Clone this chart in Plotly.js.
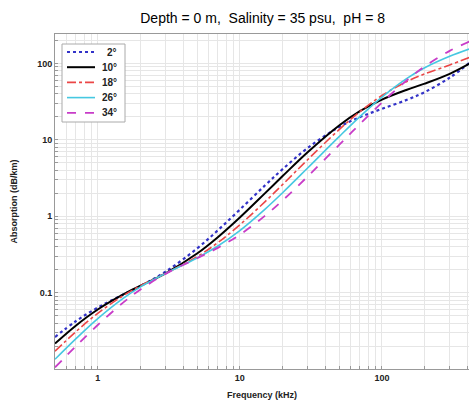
<!DOCTYPE html>
<html>
<head>
<meta charset="utf-8">
<script src="https://cdn.plot.ly/plotly-3.0.1.min.js"></script>
<style>
html,body{margin:0;padding:0;background:#fff;}
#chart{width:469px;height:404px;}
</style>
</head>
<body>
<div id="chart"></div>
<script>
// Frequency (kHz)
var freq = [0.5, 0.7, 1, 1.5, 2, 3, 5, 7, 10, 15, 20, 30, 50, 70, 100, 150, 200, 300, 420];
// Absorption (dB/km), one series per temperature
var abs2  = [0.0262, 0.0422, 0.0637, 0.0937, 0.122, 0.188, 0.378, 0.654, 1.22, 2.52, 4.13, 7.80, 14.7, 19.8, 25.4, 33.4, 42.1, 65.1, 104];
var abs10 = [0.0215, 0.0369, 0.0601, 0.0939, 0.123, 0.179, 0.325, 0.532, 0.963, 1.99, 3.35, 6.87, 15.4, 23.7, 33.6, 45.3, 54.4, 73.1, 101];
var abs18 = [0.0171, 0.0307, 0.0536, 0.0906, 0.123, 0.178, 0.295, 0.451, 0.772, 1.54, 2.60, 5.49, 13.6, 23.3, 38.0, 58.0, 72.8, 95.3, 121];
var abs26 = [0.0134, 0.0248, 0.0457, 0.0834, 0.119, 0.178, 0.284, 0.407, 0.649, 1.23, 2.03, 4.27, 11.0, 20.1, 36.2, 63.7, 87.7, 124, 156];
var abs34 = [0.0105, 0.0198, 0.0377, 0.0733, 0.110, 0.176, 0.282, 0.385, 0.573, 1.01, 1.61, 3.31, 8.58, 16.1, 30.7, 60.2, 91.2, 146, 196];
var seriesNames = ['2°', '10°', '18°', '26°', '34°'];
var xTickVals = [1, 10, 100];
var xTickLabels = ['1', '10', '100'];
var yTickVals = [0.1, 1, 10, 100];
var yTickLabels = ['0.1', '1', '10', '100'];

function gridTicks(lo, hi, majors, labels) {
  var vals = [], text = [];
  for (var e = lo; e <= hi; e++) {
    for (var m = 1; m <= 9; m++) {
      var v = +(m * Math.pow(10, e)).toPrecision(6);
      vals.push(v);
      var idx = majors.indexOf(v);
      text.push(idx >= 0 ? labels[idx] : '');
    }
  }
  return {vals: vals, text: text};
}
var xg = gridTicks(-1, 2, xTickVals, xTickLabels);
var yg = gridTicks(-2, 2, yTickVals, yTickLabels);

var styles = [
  {color: 'rgb(50,50,200)', width: 2.2, dash: 'dot'},
  {color: 'rgb(0,0,0)', width: 2, dash: 'solid'},
  {color: 'rgb(235,70,70)', width: 1.6, dash: 'dashdot'},
  {color: 'rgb(70,200,225)', width: 1.6, dash: 'solid'},
  {color: 'rgb(200,60,200)', width: 1.8, dash: 'dash'}
];
var series = [abs2, abs10, abs18, abs26, abs34];
var traces = series.map(function (s, i) {
  return {x: freq, y: s, type: 'scatter', mode: 'lines', name: seriesNames[i], showlegend: false,
          line: {color: styles[i].color, width: styles[i].width, dash: styles[i].dash, shape: 'spline'}};
});

// Compact legend box (MATLAB style)
var PL = 55, PT = 34, PW = 414, PH = 335;
function px(x) { return (x - PL) / PW; }
function py(y) { return (PT + PH - y) / PH; }
var shapes = [{type: 'rect', xref: 'paper', yref: 'paper', x0: px(62), x1: px(125), y0: py(122), y1: py(44),
               fillcolor: '#fff', line: {color: '#aaa', width: 1}, layer: 'above'}];
var annotations = [];
seriesNames.forEach(function (n, i) {
  var yy = py(52 + i * 15.2);
  shapes.push({type: 'line', xref: 'paper', yref: 'paper', x0: px(67), x1: px(95), y0: yy, y1: yy,
               line: {color: styles[i].color, width: styles[i].width, dash: styles[i].dash}, layer: 'above'});
  annotations.push({xref: 'paper', yref: 'paper', x: px(119), y: yy, xanchor: 'right', yanchor: 'middle',
                    text: n, showarrow: false,
                    font: {family: 'Liberation Sans, Arial, sans-serif', size: 10, color: '#222', weight: 'bold'}});
});

var tickFont = {family: 'Liberation Sans, Arial, sans-serif', size: 9, color: '#222', weight: 'bold'};
var layout = {
  width: 469, height: 404,
  margin: {l: PL, r: 0, t: PT, b: 35, pad: 0},
  paper_bgcolor: '#fff', plot_bgcolor: '#fff',
  title: {text: 'Depth = 0 m,  Salinity = 35 psu,  pH = 8',
          font: {family: 'Liberation Sans, Arial, sans-serif', size: 14, color: '#000'},
          x: 0.56, xanchor: 'center', y: 0.955, yanchor: 'middle'},
  xaxis: {type: 'log', range: [Math.log10(0.5), 2.613],
          tickmode: 'array', tickvals: xg.vals, ticktext: xg.text,
          ticks: 'inside', ticklen: 3, tickcolor: '#999',
          showgrid: true, gridcolor: '#e6e6e6', gridwidth: 1,
          showline: true, linecolor: '#999', mirror: true, zeroline: false,
          tickfont: tickFont,
          title: {text: 'Frequency (kHz)', font: {family: 'Liberation Sans, Arial, sans-serif', size: 9, color: '#222', weight: 'bold'}, standoff: 9}},
  yaxis: {type: 'log', range: [-2, 2.385],
          tickmode: 'array', tickvals: yg.vals, ticktext: yg.text,
          ticks: 'inside', ticklen: 3, tickcolor: '#999',
          showgrid: true, gridcolor: '#e6e6e6', gridwidth: 1,
          showline: true, linecolor: '#999', mirror: true, zeroline: false,
          tickfont: tickFont,
          title: {text: 'Absorption (dB/km)', font: {family: 'Liberation Sans, Arial, sans-serif', size: 9, color: '#222', weight: 'bold'}, standoff: 18}},
  showlegend: false,
  shapes: shapes,
  annotations: annotations
};
Plotly.newPlot('chart', traces, layout, {staticPlot: true, displayModeBar: false});
</script>
</body>
</html>
